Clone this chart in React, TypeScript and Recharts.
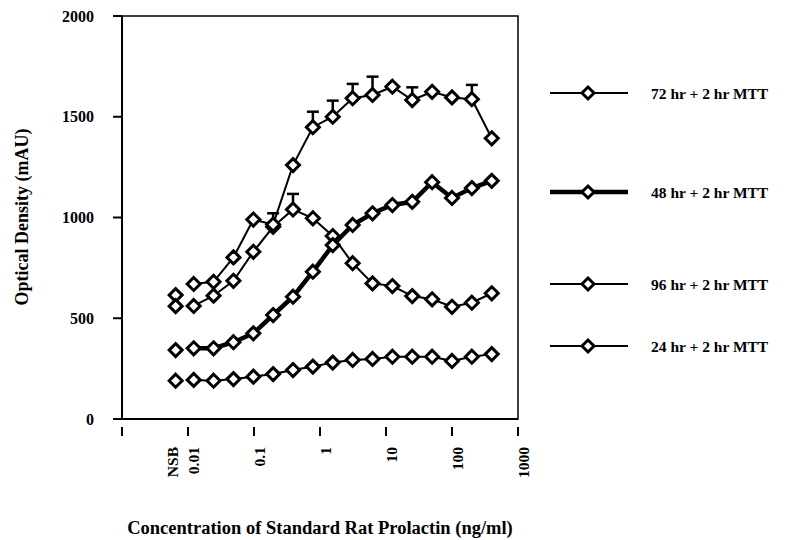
import { LineChart, Line, XAxis, YAxis, ErrorBar, ReferenceArea } from 'recharts';

// 2-fold dilution series, ng/ml
const concentrations = [
  0.0122, 0.0244, 0.0488, 0.0977, 0.195, 0.39, 0.78, 1.56, 3.125, 6.25, 12.5, 25, 50, 100, 200, 400,
];
const NSB_X = 0.0065;

const h72 = [670, 681, 802, 990, 965, 1260, 1448, 1500, 1592, 1608, 1649, 1583, 1624, 1596, 1587, 1393];
const h48 = [351, 351, 381, 425, 516, 607, 731, 863, 963, 1021, 1062, 1078, 1175, 1097, 1146, 1182];
const h96 = [561, 612, 686, 830, 954, 1040, 996, 908, 773, 673, 660, 610, 594, 557, 577, 624];
const h24 = [194, 190, 198, 210, 223, 243, 260, 280, 293, 298, 309, 309, 309, 288, 309, 322];

// upward-only error bars (SEM), 0 = none drawn
const err72 = [0, 0, 0, 0, 0, 0, 77, 80, 71, 91, 0, 63, 0, 0, 71, 0];
const err96 = [0, 0, 0, 0, 67, 77, 0, 0, 0, 0, 0, 0, 0, 0, 0, 0];

const nsb = { h72: 615, h48: 342, h96: 560, h24: 190 };

const xTicks = [0.001, NSB_X, 0.01, 0.1, 1, 10, 100, 1000];
const yTicks = [0, 500, 1000, 1500, 2000];

const legendItems = [
  { label: '72 hr + 2 hr MTT', y: 93, width: 2 },
  { label: '48 hr + 2 hr MTT', y: 192, width: 4.5 },
  { label: '96 hr + 2 hr MTT', y: 284, width: 2 },
  { label: '24 hr + 2 hr MTT', y: 346, width: 2 },
];

const FONT = '"Liberation Serif", "Times New Roman", serif';

const rows = concentrations.map((c, i) => ({
  conc: c,
  h72: h72[i],
  h48: h48[i],
  h96: h96[i],
  h24: h24[i],
  e72: [0, err72[i]],
  e96: [0, err96[i]],
}));

const nsbRows = [{ conc: NSB_X, ...nsb }];

function diamondPoints(cx: number, cy: number, r = 6.5) {
  return `${cx},${cy - r} ${cx + r},${cy} ${cx},${cy + r} ${cx - r},${cy}`;
}

function Diamond(props: any) {
  const { cx, cy, index } = props;
  if (cx == null || cy == null) return null;
  return (
    <polygon
      key={index}
      points={diamondPoints(cx, cy)}
      fill="#fff"
      stroke="#000"
      strokeWidth={3}
    />
  );
}

function XTick(props: any) {
  const { x, y, payload } = props;
  const v = payload.value;
  const label = v === NSB_X ? 'NSB' : v === 0.001 ? '' : String(v);
  return (
    <g>
      {v !== NSB_X && <line x1={x} y1={y} x2={x} y2={y + 9} stroke="#000" strokeWidth={2} />}
      {label && (
        <text
          x={0}
          y={0}
          transform={`translate(${x + (v === NSB_X ? -3 : 5)},${y + 20}) rotate(-90)`}
          textAnchor="end"
          dominantBaseline="central"
          fontFamily={FONT}
          fontWeight="bold"
          fontSize={15.5}
          fill="#000"
        >
          {label}
        </text>
      )}
    </g>
  );
}

export default function App() {
  return (
    <div style={{ position: 'absolute', left: 0, top: 0, width: 785, height: 540, background: '#fff' }}>
      <LineChart
        width={785}
        height={540}
        data={rows}
        margin={{ top: 16, right: 267, left: 0, bottom: 0 }}
      >
        <XAxis
          dataKey="conc"
          type="number"
          scale="log"
          domain={[0.001, 1000]}
          allowDataOverflow
          ticks={xTicks}
          interval={0}
          tick={<XTick />}
          tickLine={false}
          axisLine={{ stroke: '#000', strokeWidth: 2 }}
          height={121}
        />
        <YAxis
          type="number"
          domain={[0, 2000]}
          ticks={yTicks}
          width={122}
          tickSize={9}
          tickMargin={19}
          tickLine={{ stroke: '#000', strokeWidth: 2 }}
          axisLine={{ stroke: '#000', strokeWidth: 2 }}
          tick={{ fontFamily: FONT, fontWeight: 'bold', fontSize: 16, fill: '#000' }}
        />
        <ReferenceArea x1={0.001} x2={1000} y1={0} y2={2000} fill="none" stroke="#000" strokeWidth={1.5} />

        <Line dataKey="h24" stroke="#000" strokeWidth={2} dot={<Diamond />} isAnimationActive={false} />
        <Line dataKey="h96" stroke="#000" strokeWidth={2} dot={<Diamond />} isAnimationActive={false}>
          <ErrorBar dataKey="e96" width={6} stroke="#000" strokeWidth={2.5} direction="y" />
        </Line>
        <Line dataKey="h48" stroke="#000" strokeWidth={4.5} dot={<Diamond />} isAnimationActive={false} />
        <Line dataKey="h72" stroke="#000" strokeWidth={2} dot={<Diamond />} isAnimationActive={false}>
          <ErrorBar dataKey="e72" width={6} stroke="#000" strokeWidth={2.5} direction="y" />
        </Line>

        {(['h72', 'h48', 'h96', 'h24'] as const).map((k) => (
          <Line
            key={`nsb-${k}`}
            data={nsbRows}
            dataKey={k}
            stroke="none"
            dot={<Diamond />}
            legendType="none"
            isAnimationActive={false}
          />
        ))}
      </LineChart>

      <svg
        width={785}
        height={540}
        style={{ position: 'absolute', left: 0, top: 0, pointerEvents: 'none' }}
      >
        {legendItems.map((it) => (
          <g key={it.label}>
            <line x1={550} y1={it.y} x2={628} y2={it.y} stroke="#000" strokeWidth={it.width} />
            <polygon points={diamondPoints(588, it.y, 6)} fill="#fff" stroke="#000" strokeWidth={3} />
            <text
              x={651}
              y={it.y}
              dominantBaseline="central"
              fontFamily={FONT}
              fontWeight="bold"
              fontSize={15.5}
              fill="#000"
            >
              {it.label}
            </text>
          </g>
        ))}
        <text
          transform="translate(22,217) rotate(-90)"
          textAnchor="middle"
          dominantBaseline="central"
          fontFamily={FONT}
          fontWeight="bold"
          fontSize={18}
          fill="#000"
        >
          Optical Density (mAU)
        </text>
        <text
          x={320}
          y={528}
          textAnchor="middle"
          dominantBaseline="central"
          fontFamily={FONT}
          fontWeight="bold"
          fontSize={18.5}
          fill="#000"
        >
          Concentration of Standard Rat Prolactin (ng/ml)
        </text>
      </svg>
    </div>
  );
}
